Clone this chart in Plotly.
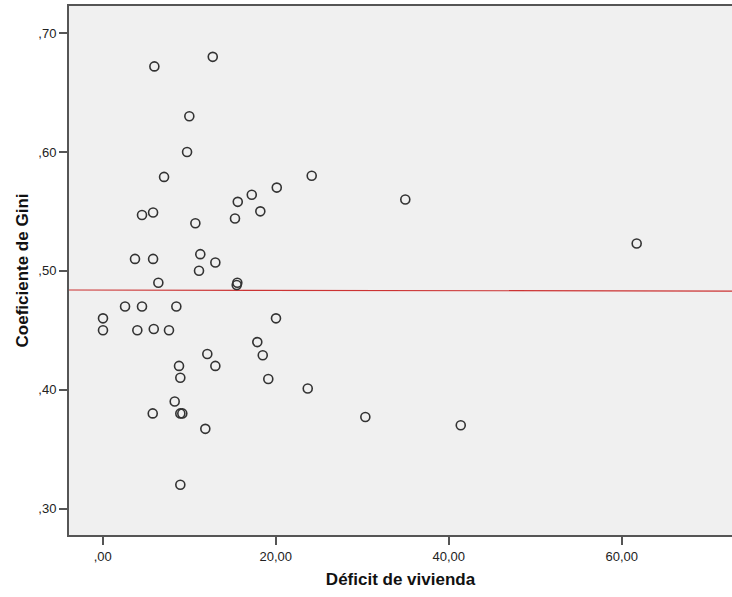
import plotly.graph_objects as go

# Housing deficit (%) vs Gini coefficient, one point per territory
deficit_vivienda = [
    5.97, 12.72, 10.01, 9.75, 7.09, 24.16, 20.12, 17.23, 34.98, 15.61,
    18.22, 5.82, 4.54, 15.29, 10.71, 61.73, 11.28, 3.73, 5.82, 13.02,
    11.13, 6.43, 15.56, 15.49, 2.58, 4.54, 8.51, 0.03, 20.03, 0.03,
    4.00, 5.90, 7.66, 17.87, 12.09, 18.50, 8.82, 13.02, 8.97, 19.14,
    23.70, 8.32, 5.78, 8.97, 9.20, 30.36, 11.86, 41.39, 8.97,
]
coef_gini = [
    0.672, 0.680, 0.630, 0.600, 0.579, 0.580, 0.570, 0.564, 0.560, 0.558,
    0.550, 0.549, 0.547, 0.544, 0.540, 0.523, 0.514, 0.510, 0.510, 0.507,
    0.500, 0.490, 0.490, 0.488, 0.470, 0.470, 0.470, 0.460, 0.460, 0.450,
    0.450, 0.451, 0.450, 0.440, 0.430, 0.429, 0.420, 0.420, 0.410, 0.409,
    0.401, 0.390, 0.380, 0.380, 0.380, 0.377, 0.367, 0.370, 0.320,
]

# Total fit line (intercept, slope)
fit_intercept = 0.4838
fit_slope = -0.000012

x_range = [-3.9, 72.75]
y_range = [0.2777, 0.7228]

x_ticks = [0, 20, 40, 60]
x_tick_text = [",00", "20,00", "40,00", "60,00"]
y_ticks = [0.3, 0.4, 0.5, 0.6, 0.7]
y_tick_text = [",30", ",40", ",50", ",60", ",70"]

fit_x = x_range
fit_y = [fit_intercept + fit_slope * v for v in fit_x]

fig = go.Figure()
fig.add_trace(go.Scatter(
    x=fit_x, y=fit_y, mode="lines",
    line=dict(color="#cc3333", width=1.2),
    hoverinfo="skip", showlegend=False,
))
fig.add_trace(go.Scatter(
    x=deficit_vivienda, y=coef_gini, mode="markers",
    marker=dict(symbol="circle-open", size=9, color="#333333",
                line=dict(width=1.6, color="#333333")),
    showlegend=False,
))

axis_font = dict(family="Liberation Sans, Arial, sans-serif", size=13, color="#222222")
title_font = dict(family="Liberation Sans, Arial, sans-serif", size=17, color="#111111")

fig.update_layout(
    width=732, height=597,
    margin=dict(l=69, r=0, t=6, b=62),
    paper_bgcolor="white",
    plot_bgcolor="#f0f0f0",
    font=axis_font,
)
fig.update_xaxes(
    range=x_range, tickvals=x_ticks, ticktext=x_tick_text,
    showgrid=False, zeroline=False,
    showline=True, linecolor="#555555", linewidth=2, mirror=True,
    ticks="outside", ticklen=8, tickwidth=1.5, tickcolor="#555555",
    tickfont=axis_font,
    title=dict(text="<b>Déficit de vivienda</b>", font=title_font, standoff=11),
)
fig.update_yaxes(
    range=y_range, tickvals=y_ticks, ticktext=y_tick_text,
    showgrid=False, zeroline=False,
    showline=True, linecolor="#555555", linewidth=2,
    ticks="outside", ticklen=8, tickwidth=1.5, tickcolor="#555555",
    tickfont=axis_font,
    title=dict(text="<b>Coeficiente de Gini</b>", font=title_font, standoff=5),
)

fig.write_html("out.html")
